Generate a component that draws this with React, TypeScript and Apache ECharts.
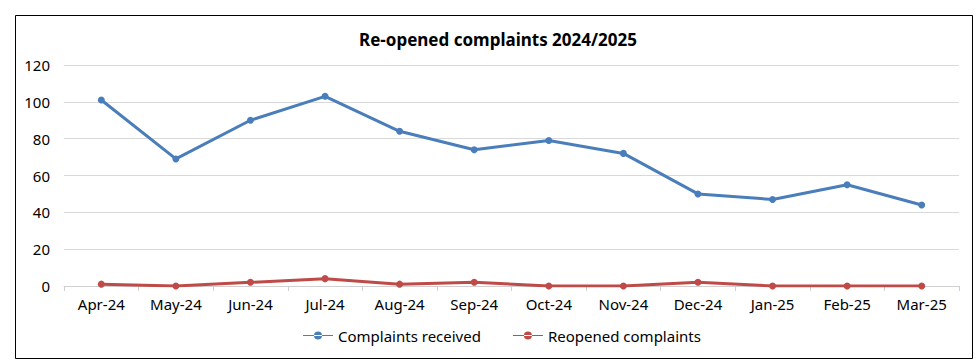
import React, { useEffect, useRef } from "react";
import * as echarts from "echarts";

const months = ["Apr-24", "May-24", "Jun-24", "Jul-24", "Aug-24", "Sep-24", "Oct-24", "Nov-24", "Dec-24", "Jan-25", "Feb-25", "Mar-25"];
const complaintsReceived = [101, 69, 90, 103, 84, 74, 79, 72, 50, 47, 55, 44];
const reopenedComplaints = [1, 0, 2, 4, 1, 2, 0, 0, 2, 0, 0, 0];
const titleText = "Re-opened complaints 2024/2025";

const FONT = "'Noto Sans', 'Open Sans', sans-serif";

export default function App() {
  const ref = useRef<HTMLDivElement>(null);
  useEffect(() => {
    if (!ref.current) return;
    const chart = echarts.init(ref.current, undefined, { renderer: "svg" });
    chart.setOption({
      animation: false,
      backgroundColor: "#ffffff",
      textStyle: { fontFamily: FONT },
      title: {
        text: titleText,
        left: 493,
        top: 26,
        textAlign: "center",
        textStyle: { fontSize: 17, fontWeight: "bold", color: "#000", fontFamily: FONT },
      },
      graphic: [
        {
          type: "rect",
          shape: { x: 15.5, y: 15.5, width: 957, height: 343 },
          style: { fill: "none", stroke: "#000", lineWidth: 1 },
          silent: true,
        },
      ],
      legend: {
        bottom: 13,
        left: 298,
        itemWidth: 30,
        itemHeight: 8,
        itemGap: 32,
        icon: "path://M0,3.5 L30,3.5 L30,4.5 L0,4.5 Z M11,4 A4,4 0 1 0 19,4 A4,4 0 1 0 11,4 Z",
        textStyle: { fontSize: 15, color: "#000", fontFamily: FONT },
        data: ["Complaints received", "Reopened complaints"],
      },
      grid: { left: 64, right: 17, top: 65, bottom: 75, containLabel: false },
      xAxis: {
        type: "category",
        data: months,
        boundaryGap: true,
        axisLine: { lineStyle: { color: "#d0d0d0", width: 1 } },
        axisTick: { show: true, length: 5, lineStyle: { color: "#d0d0d0" } },
        axisLabel: { fontSize: 15, color: "#000", margin: 10, fontFamily: FONT },
      },
      yAxis: {
        type: "value",
        min: 0,
        max: 120,
        interval: 20,
        axisLine: { show: false },
        axisTick: { show: false },
        axisLabel: { fontSize: 15, color: "#000", margin: 14, fontFamily: FONT },
        splitLine: { lineStyle: { color: "#d9d9d9", width: 1 } },
      },
      series: [
        {
          name: "Complaints received",
          type: "line",
          data: complaintsReceived,
          color: "#4a7ebb",
          lineStyle: { width: 3, color: "#4a7ebb" },
          symbol: "circle",
          symbolSize: 7,
          itemStyle: { color: "#4a7ebb" },
        },
        {
          name: "Reopened complaints",
          type: "line",
          data: reopenedComplaints,
          color: "#be4b48",
          lineStyle: { width: 3, color: "#be4b48" },
          symbol: "circle",
          symbolSize: 7,
          itemStyle: { color: "#be4b48" },
        },
      ],
    });
    return () => chart.dispose();
  }, []);
  return (
    <div
      ref={ref}
      style={{ position: "fixed", left: 0, top: 0, width: 976, height: 361 }}
    />
  );
}
